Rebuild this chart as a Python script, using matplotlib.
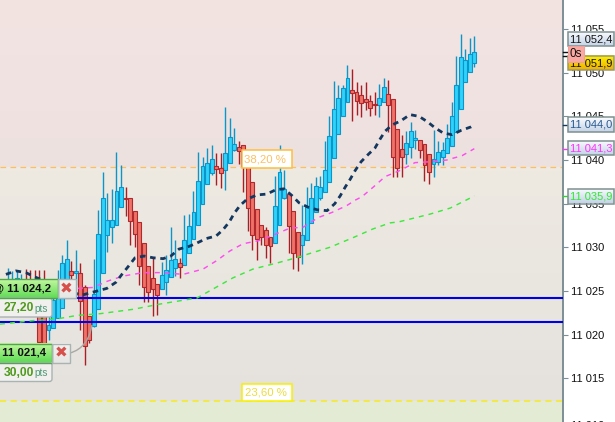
import numpy as np
import matplotlib
matplotlib.use("Agg")
import matplotlib.pyplot as plt
from matplotlib.patches import Rectangle, FancyBboxPatch, PathPatch
from matplotlib.path import Path

plt.rcParams['font.family'] = ['Liberation Sans', 'DejaVu Sans']

# prices are stored as points above 11 000
base = 11000

opens = [24.2,24.4,24.8,25.0,24.5,26.2,26.0,25.7,24.5,24.0,
         20.5,20.8,21.9,23.1,24.2,27.3,27.1,27.1,25.4,22.1,
         21.0,22.9,27.1,31.4,32.3,32.6,34.6,35.7,35.6,34.2,
         32.9,30.5,27.9,26.5,25.8,25.2,26.0,26.6,27.6,28.2,
         28.0,29.4,30.9,32.5,35.0,37.2,38.5,39.3,39.1,38.8,
         39.7,41.2,41.5,41.7,39.8,37.5,34.4,32.6,32.0,31.2,
         30.5,32.6,35.6,36.1,34.2,31.8,30.3,30.8,32.8,34.1,
         35.6,36.3,37.5,40.2,43.0,45.0,46.6,48.0,47.8,47.4,
         47.0,46.8,46.4,46.3,46.7,47.6,47.0,43.6,41.3,40.7,
         41.5,42.3,42.3,41.8,40.7,39.6,39.8,40.4,40.8,41.6,
         43.2,45.9,48.9,50.1,51.1]
closes = [25.0,25.6,26.2,26.5,26.0,24.8,24.5,23.4,19.2,18.9,
          21.1,24.0,26.0,28.2,28.7,26.8,27.3,23.8,18.7,19.4,
          24.6,31.5,35.6,33.1,33.1,36.5,36.9,35.5,33.0,31.5,
          27.9,25.4,24.9,25.2,24.5,26.8,27.4,28.6,28.7,27.8,
          30.8,32.4,34.1,37.6,39.3,39.7,40.1,39.0,38.5,40.8,
          42.6,41.8,41.0,39.3,34.5,31.4,30.9,31.2,30.3,30.1,
          34.7,38.6,36.7,32.4,29.3,28.9,31.4,34.6,35.6,37.0,
          36.9,38.9,42.8,45.9,47.1,48.2,49.4,47.7,46.8,46.5,
          46.6,46.0,46.3,47.1,48.4,46.3,40.4,39.1,40.3,42.0,
          43.3,42.5,41.1,39.4,38.6,40.1,40.9,41.1,42.5,45.0,
          48.6,51.8,51.5,52.1,52.4]
highs = [25.5,27.6,27.3,27.4,27.0,27.5,27.4,27.4,27.4,27.4,
         24.0,25.7,27.4,29.1,30.8,28.4,29.7,28.2,25.7,22.1,
         28.7,34.3,38.6,36.2,36.7,40.9,39.4,36.9,35.6,34.2,
         32.9,30.5,27.9,28.8,25.8,28.3,29.1,32.3,30.8,28.8,
         33.7,33.8,36.4,40.9,40.4,41.4,41.7,40.8,40.8,46.1,
         44.8,43.7,42.2,41.7,39.8,37.5,34.4,32.6,32.3,31.2,
         38.2,41.7,38.9,36.1,34.2,31.8,34.9,36.9,37.4,38.1,
         38.2,42.2,45.0,49.1,48.6,48.6,50.9,50.4,48.9,48.6,
         48.9,47.5,47.8,48.7,49.4,49.2,47.0,43.6,42.9,43.3,
         44.4,43.4,42.3,41.8,40.7,43.4,42.2,42.1,44.1,46.7,
         51.9,54.4,52.7,54.0,54.2]
lows = [23.5,24.0,24.3,24.5,24.0,24.0,23.0,22.5,18.8,15.6,
        19.4,20.8,21.9,23.1,24.2,25.9,25.7,20.5,16.5,19.0,
        20.9,22.9,27.1,29.5,30.5,32.6,34.6,33.6,30.3,30.0,
        25.7,23.7,23.7,22.1,22.3,25.2,24.5,26.6,26.7,26.5,
        28.0,29.4,30.9,32.5,35.0,37.2,38.3,37.1,36.8,36.6,
        39.7,41.0,39.5,36.3,31.9,29.7,28.6,30.3,28.8,28.2,
        30.5,32.6,35.5,29.4,27.5,27.3,28.1,30.8,32.8,34.1,
        35.4,36.3,37.5,40.2,43.0,45.0,46.6,44.5,45.1,44.9,
        45.7,45.0,45.2,44.9,46.7,43.2,38.1,38.0,38.1,39.6,
        40.2,41.3,40.2,37.6,37.3,38.1,39.4,39.4,40.8,41.6,
        43.2,45.9,48.9,50.1,50.7]

# moving averages, read at a bar number
navy_bars = [0.6,2.8,5.0,7.0,17.2,22.9,24.9,26.2,27.6,29.1,31.1,33.1,35.3,37.0,38.8,41.0,42.8,44.8,47.0,48.5,
             49.9,51.0,52.3,53.8,56.0,58.2,60.2,62.0,63.8,65.3,67.3,69.3,71.5,73.2,74.4,75.5,76.6,77.7,79.0,80.5,
             82.1,83.2,84.3,85.8,87.8,89.8,91.8,93.6,95.3,97.1,99.1,101.1,103.3,104]
navy_ma = [26.9,27.3,27.1,26.6,24.5,25.3,26.0,26.9,27.8,28.8,29.0,28.8,28.7,29.0,29.8,30.1,30.5,31.0,31.3,32.0,
           32.9,33.9,34.8,35.5,36.0,36.1,36.6,36.7,35.9,35.1,34.6,34.3,34.2,35.0,35.9,36.9,37.8,38.8,39.8,40.6,
           41.4,42.4,43.3,44.0,44.5,45.2,45.0,44.4,43.7,43.1,42.9,43.4,43.8,44.0]
pink_bars = [16.5,19.8,22.9,26.4,30.9,35.3,39.7,44.1,47.2,50.1,52.9,56.7,59.6,63.3,66.2,69.5,72.6,75.9,77.7,79.2,
             81.7,84.3,87.6,90.9,94.2,97.9,101.3,104]
pink_ma = [25.3,25.4,26.1,26.7,27.1,27.1,26.9,27.5,28.5,29.6,30.4,30.8,31.4,32.2,32.3,33.4,34.0,34.8,35.4,35.8,
           36.9,38.1,38.8,39.7,39.8,40.0,40.5,41.3]
green_bars = [-0.7,6.6,11.9,16.3,21.4,28.7,34.6,42.8,50.7,55.1,60.4,64.0,72.1,77.2,81.6,85.4,87.2,94.2,98.7,103.7,104]
green_ma = [21.2,21.6,21.8,22.2,22.4,22.9,23.5,24.2,26.5,27.5,28.2,28.7,30.0,31.1,32.1,32.8,32.9,33.8,34.5,35.8,35.9]

order_levels = [24.2, 21.4]
fib_levels = [39.2, 12.45]
fib_labels = ["38,20 %", "23,60 %"]
tick_prices = [15, 20, 25, 30, 35, 40, 45, 50, 55]

W, H = 615, 422
fig = plt.figure(figsize=(W / 100, H / 100), dpi=100, facecolor="white")
ax = fig.add_axes([0, 0, 563 / W, 1])
px_to_bar = 4.53

# background bands
top = np.array([[243, 228, 226], [237, 225, 223]]) / 255
mid = np.array([[238, 234, 226], [229, 226, 222]]) / 255
ax.imshow(np.linspace(top[0], top[1], 64)[:, None, :], aspect="auto", zorder=0,
          extent=[-5, 130, base + fib_levels[0], base + 58.33])
ax.imshow(np.linspace(mid[0], mid[1], 64)[:, None, :], aspect="auto", zorder=0,
          extent=[-5, 130, base + fib_levels[1], base + fib_levels[0]])
ax.axhspan(base + 9.99, base + fib_levels[1], color="#e4ebd5", lw=0, zorder=0)
ax.set_xlim(-3.2 / px_to_bar, (563 - 3.2) / px_to_bar)
ax.set_ylim(base + 9.99, base + 58.33)

# candles
bars = np.arange(len(opens))
o = base + np.array(opens)
c = base + np.array(closes)
up = c >= o
ax.vlines(bars[up], base + np.array(lows)[up], base + np.array(highs)[up], color="#0a96c8", lw=1.0, zorder=2)
ax.vlines(bars[~up], base + np.array(lows)[~up], base + np.array(highs)[~up], color="#a81e24", lw=1.0, zorder=2)
ax.bar(bars[up], (c - o)[up], bottom=o[up], width=0.86, color="#2fd2fb", edgecolor="#0a96c8", linewidth=0.8, zorder=3)
ax.bar(bars[~up], (c - o)[~up], bottom=o[~up], width=0.86, color="#ee7268", edgecolor="#b0282c", linewidth=0.8, zorder=3)

# fib levels and order lines
ax.axhline(base + fib_levels[0], color="#fbbf5c", lw=0.9, ls=(0, (4.5, 3.5)), zorder=1)
ax.axhline(base + fib_levels[1], color="#f7ea1e", lw=1.1, ls=(0, (4, 3)), zorder=1)
for lvl in order_levels:
    ax.axhline(base + lvl, color="#0000e6", lw=1.5, zorder=4)

# averages
ax.plot(green_bars, base + np.array(green_ma), color="#3fe83f", lw=1.05, ls=(0, (3.4, 3.4)), zorder=5)
ax.plot(pink_bars, base + np.array(pink_ma), color="#ff4df0", lw=1.05, ls=(0, (3.4, 3.4)), zorder=5)
ax.plot(navy_bars, base + np.array(navy_ma), color="#14375f", lw=2.0, ls=(0, (2.0, 1.7)), zorder=6)

# price axis on the right
for s in ["top", "left", "bottom"]:
    ax.spines[s].set_visible(False)
ax.spines["right"].set_color("#7d8f96")
ax.spines["right"].set_linewidth(1.4)
ax.set_xticks([])
ax.yaxis.tick_right()
ax.set_yticks([base + t for t in tick_prices])
ax.set_yticklabels(["11 %03d" % t for t in tick_prices], fontsize=8, color="#111111")
ax.tick_params(axis="y", length=3.6, width=0.8, color="#7d8f96", pad=2.2)

# overlay in pixels for labels and price boxes
ov = fig.add_axes([0, 0, 1, 1], facecolor="none")
ov.axis("off")

ov.text(571, 426, "11 010", fontsize=8, va="center", color="#111111")


def gradient_box(x0, y0, x1, y1, c_top, c_bot, edge, lw=1.0):
    colors = np.linspace(matplotlib.colors.to_rgb(c_top), matplotlib.colors.to_rgb(c_bot), 32)[:, None, :]
    ov.imshow(colors, extent=[x0, x1, y1, y0], aspect="auto", zorder=10)
    ov.add_patch(Rectangle((x0, y0), x1 - x0, y1 - y0, fill=False, edgecolor=edge, lw=lw, zorder=11))


def order_label(x_end, y0, price, pts):
    # green price row, white close button, white pts row
    gradient_box(-3, y0, x_end, y0 + 19, "#c4f7a0", "#5fdc55", "#4ea84a")
    gradient_box(x_end, y0, x_end + 18, y0 + 19, "#f2f2f0", "#e6e6e4", "#a9b3b3")
    ov.text(x_end + 9, y0 + 9.6, "\u2716", family="DejaVu Sans", fontsize=11, color="#d8504c",
            ha="center", va="center", zorder=12)
    ov.text(x_end - 6, y0 + 9.8, "@ " + price, fontsize=8.2, fontweight="bold", color="#101010",
            ha="right", va="center", zorder=12)
    ov.add_patch(FancyBboxPatch((-6, y0 + 19), 58, 19, boxstyle="round,pad=0,rounding_size=2.5",
                                fc="#f1f0ee", ec="#a9b3b3", lw=1.0, zorder=10))
    ov.text(4, y0 + 29, pts, fontsize=8.7, fontweight="bold", color="#4e9a1c", va="center", zorder=12)
    ov.text(34, y0 + 29.5, "pts", fontsize=7.2, color="#4f9a78", va="center", zorder=12)


ov.add_patch(PathPatch(Path([(70, 353), (88, 348), (92, 325)], [Path.MOVETO, Path.CURVE3, Path.CURVE3]),
                       fill=False, edgecolor="#a8a8a4", lw=1.0, zorder=9))
order_label(57.5, 279, "11 024,2", "27,20")
order_label(52, 343.5, "11 021,4", "30,00")

# fib tags
ov.add_patch(Rectangle((241.8, 150), 50, 17.5, fc="white", ec="#fdbf3e", lw=1.1, zorder=8))
ov.text(244.5, 159, fib_labels[0], fontsize=8.2, color="#fcc060", va="center", zorder=9)
ov.add_patch(Rectangle((242.3, 383.5), 49.5, 17, fc="white", ec="#f8f000", lw=1.1, zorder=8))
ov.text(244.8, 392.5, fib_labels[1], fontsize=8.2, color="#ecdc40", va="center", zorder=9)

# coloured ticks for the price boxes
for y, col in [(51.5, "#111111"), (56, "#111111"), (125, "#14375f"), (148.6, "#ff33ff"), (196, "#22dd22")]:
    ov.plot([563, 568], [y, y], color=col, lw=1.0, zorder=9)

# price boxes
boxes = [(31.7, 46, "11 052,4", "#141414", "#fbfcfe", "#c4d4e8", "#7f9090"),
         (55.7, 70, "11 051,9", "#141414", "#fff200", "#f0b000", "#9a9a70"),
         (117, 132, "11 044,0", "#2a5a90", "#fbfcfe", "#c4d4e8", "#7f9090"),
         (140.7, 155, "11 041,3", "#ff33ff", "#fbfcfe", "#c4d4e8", "#7f9090"),
         (189, 203.5, "11 035,9", "#33e833", "#fbfcfe", "#c4d4e8", "#7f9090")]
for y0, y1, txt, col, c0, c1, edge in boxes:
    gradient_box(568, y0, 613.7, y1, c0, c1, edge, lw=1.1)
    ov.text(570.5, (y0 + y1) / 2 + 0.3, txt, fontsize=8, color=col, va="center", zorder=13)

ov.add_patch(Rectangle((568, 46), 16, 15.7, fc="#f9a9a2", ec="#f0a09a", lw=0.8, zorder=14))
ov.text(570, 54, "0s", fontsize=8.4, color="#111111", va="center", zorder=15)

ov.set_xlim(0, W)
ov.set_ylim(H, 0)

fig.savefig("out.png", dpi=100)
